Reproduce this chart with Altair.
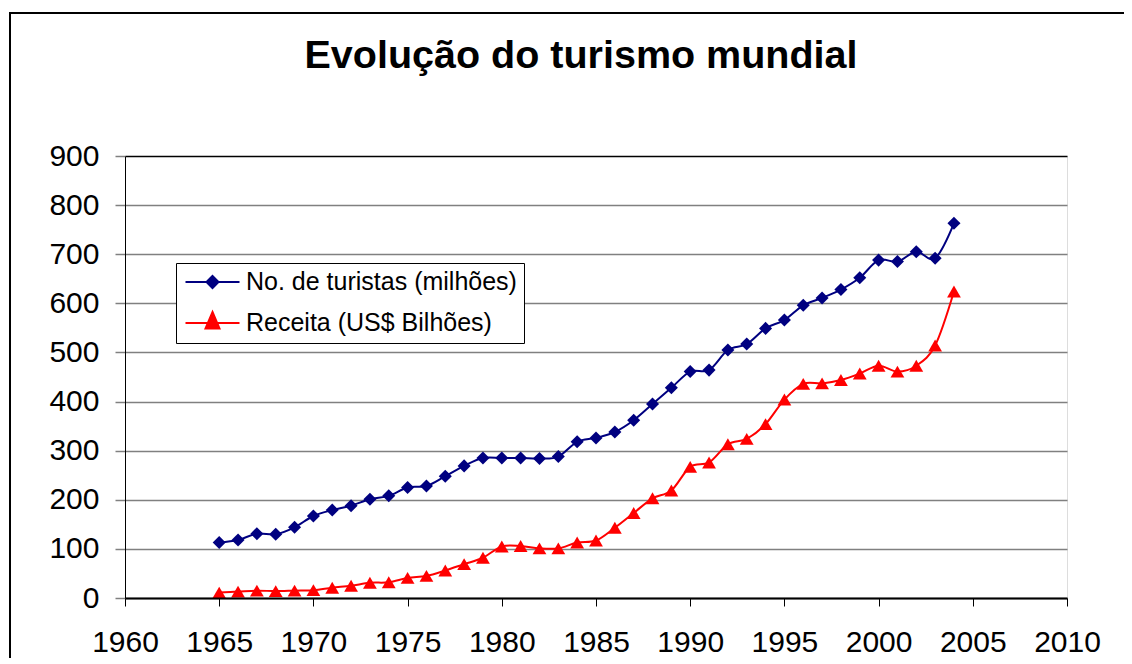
import altair as alt
import pandas as pd

# ---- data ----
years = list(range(1965, 2005))
turistas = [113, 118, 131, 130, 144, 167, 179, 188, 201, 208,
            225, 228, 248, 269, 285, 285, 285, 284, 288, 318,
            326, 338, 362, 395, 428, 461, 464, 505, 517, 549,
            566, 596, 611, 628, 652, 688, 685, 705, 692, 763]
receita = [11, 13, 15, 14, 15, 16, 21, 25, 31, 32,
           41, 45, 56, 69, 82, 105, 106, 101, 101, 113,
           117, 143, 173, 203, 219, 267, 276, 313, 324, 354,
           404, 436, 437, 444, 457, 473, 461, 473, 514, 624]
series_names = ["No. de turistas (milhões)", "Receita (US$ Bilhões)"]
series_colors = ["#000080", "#FF0000"]
x_ticks = list(range(1960, 2011, 5))
y_ticks = list(range(0, 901, 100))
title_text = "Evolução do turismo mundial"

df = pd.DataFrame({
    "ano": years + years,
    "valor": turistas + receita,
    "serie": [series_names[0]] * len(years) + [series_names[1]] * len(years),
})

FONT = "Liberation Sans"

x = alt.X("ano:Q",
          scale=alt.Scale(domain=[1960, 2010], nice=False, zero=False),
          axis=alt.Axis(values=x_ticks, format="d", title=None, grid=False,
                        domainColor="black", domainWidth=2,
                        tickColor="black", tickSize=8, tickWidth=1,
                        labelPadding=21, labelFontSize=30, labelFont=FONT,
                        labelColor="black", labelOverlap=False, labelFlush=False,
                        zindex=1))
y = alt.Y("valor:Q",
          scale=alt.Scale(domain=[0, 900], nice=False),
          axis=alt.Axis(values=y_ticks, title=None, grid=True,
                        gridColor={"condition": {"test": "datum.value >= 900", "value": "black"},
                                   "value": "#808080"},
                        gridWidth=1.5,
                        domainColor="black", domainWidth=1,
                        tickColor="#808080", tickSize=10, tickWidth=1.5,
                        labelPadding=16, labelFontSize=30, labelFont=FONT,
                        labelColor="black", labelOverlap=False))

base = alt.Chart(df).encode(x=x, y=y)
line_t = base.transform_filter(alt.datum.serie == series_names[0]).mark_line(
    interpolate="cardinal", strokeWidth=2, color=series_colors[0])
line_r = base.transform_filter(alt.datum.serie == series_names[1]).mark_line(
    interpolate="cardinal", strokeWidth=2, color=series_colors[1])
pts_t = base.transform_filter(alt.datum.serie == series_names[0]).mark_point(
    shape="diamond", filled=True, size=170, opacity=1, color=series_colors[0])
pts_r = base.transform_filter(alt.datum.serie == series_names[1]).mark_point(
    shape="triangle-up", filled=True, size=190, opacity=1, color=series_colors[1])

# legend: line + marker symbols; this layer's own points lie outside the clipped view
legend_paths = [
    "M-2.7,0H2.7M0,-0.6L0.6,0L0,0.6L-0.6,0Z",
    "M-2.7,0H2.7M0,-1.1L0.7,0.55L-0.7,0.55Z",
]
leg = alt.Legend(title=None, orient="none", legendX=51, legendY=107,
                 strokeColor="black", fillColor="white", padding=6.5,
                 labelFontSize=25, labelFont=FONT, labelColor="black", labelLimit=500,
                 symbolSize=400, symbolStrokeWidth=2, symbolOffset=17.5, labelOffset=21,
                 rowPadding=12)
legend_df = pd.DataFrame({"ano": [1900, 1900], "valor": [0, 0], "serie": series_names})
legend_layer = alt.Chart(legend_df).mark_point(
    filled=True, size=400, opacity=1, strokeWidth=2, clip=True).encode(
    x=x, y=y,
    fill=alt.Fill("serie:N", scale=alt.Scale(domain=series_names, range=series_colors), legend=leg),
    stroke=alt.Stroke("serie:N", scale=alt.Scale(domain=series_names, range=series_colors), legend=leg),
    shape=alt.Shape("serie:N", scale=alt.Scale(domain=series_names, range=legend_paths), legend=leg),
)

# outer chart-area frame (top and left edges visible in the reference)
frame_data = alt.Data(values=[{"k": 1}])
top_edge = alt.Chart(frame_data).mark_rule(color="black", strokeWidth=2).encode(
    x=alt.value(-116), x2=alt.value(1010), y=alt.value(-143))
left_edge = alt.Chart(frame_data).mark_rule(color="black", strokeWidth=2).encode(
    x=alt.value(-115), y=alt.value(-144), y2=alt.value(520))

chart = alt.layer(top_edge, left_edge, line_t, line_r, pts_t, pts_r, legend_layer).properties(
    width=942, height=442,
    title=alt.TitleParams(text=title_text, fontSize=39.5, fontWeight="bold", font=FONT,
                          color="black", anchor="middle", frame="group", dx=-15,
                          baseline="alphabetic", offset=-96),
    autosize=alt.AutoSizeParams(type="none"),
    padding={"left": 117, "top": 148, "right": 57, "bottom": 60},
).configure_view(stroke="black", strokeWidth=1).configure(font=FONT, background="white")

chart.save("out.html", embed_options={"renderer": "svg", "actions": False})
